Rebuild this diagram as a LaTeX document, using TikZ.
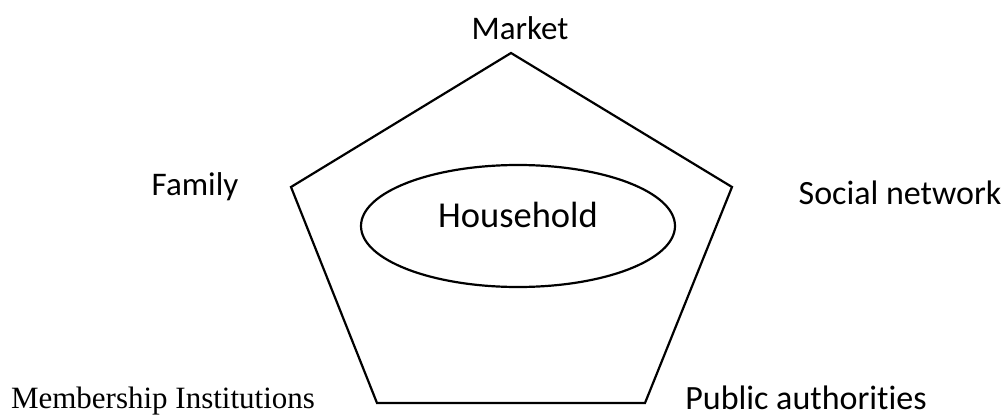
\documentclass[tikz,border=0pt]{standalone}
\usepackage{fontspec}
\usetikzlibrary{shapes.geometric}
\setmainfont{Carlito}[RawFeature=-liga]
\newfontfamily\timesfont{Liberation Serif}
\begin{document}
\begin{tikzpicture}[x=1pt,y=-1pt,line width=2.2pt,
  label/.style={anchor=base,inner sep=0pt,font=\fontsize{33}{40}\selectfont},
  hhold/.style={draw,ellipse,minimum width=314,minimum height=122,inner sep=0pt}]
\useasboundingbox (0,0) rectangle (1006,415);
% pentagon
\coordinate (top) at (511,53);
\coordinate (right) at (732,187);
\coordinate (bright) at (645,403);
\coordinate (bleft) at (377,403);
\coordinate (left) at (291,187);
\draw[line join=miter] (top)--(right)--(bright)--(bleft)--(left)--cycle;

\node[hhold] (household) at (518,226) {};
\node[label,font=\fontsize{36.5}{44}\selectfont] (hhtext) at (518,227) {Household};

\node[label] (market) at (520,39) {Market};
\node[label] (family) at (195,195) {Family};
\node[label,font=\fontsize{34}{40}\selectfont] (social) at (900,204) {Social network};
\node[label,font=\fontsize{34}{40}\selectfont] (public) at (806,409) {Public authorities};
\node[label,font=\timesfont\fontsize{31}{38}\selectfont] (member) at (163,408) {Membership Institutions};
\end{tikzpicture}
\end{document}
